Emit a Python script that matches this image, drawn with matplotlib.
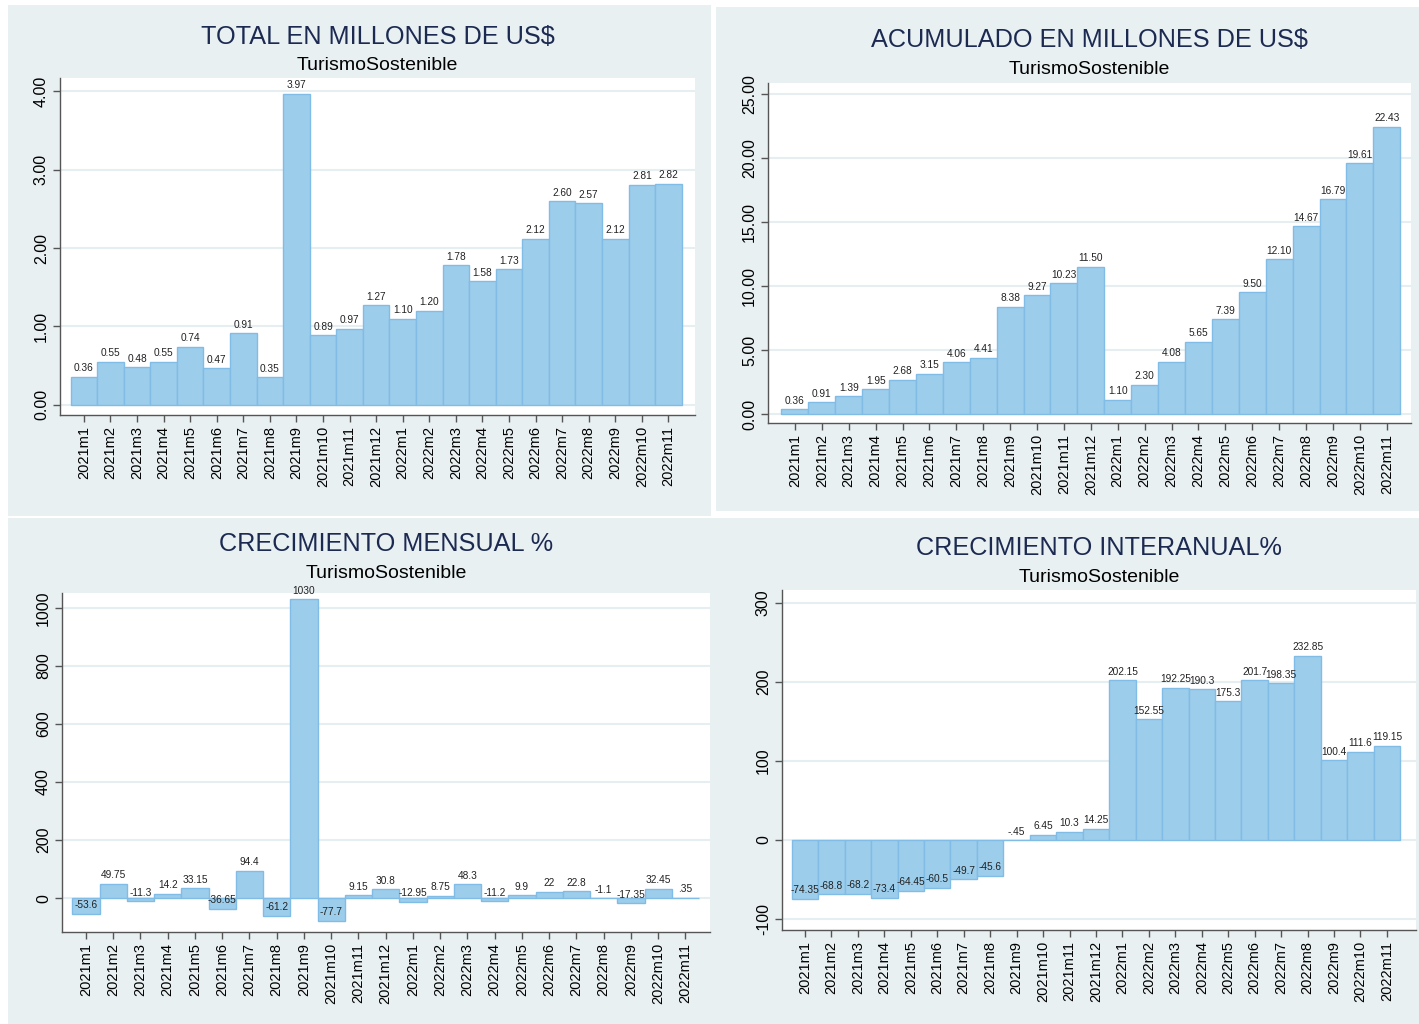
import matplotlib
matplotlib.use("Agg")
import matplotlib.pyplot as plt
import numpy as np
from matplotlib.patches import Rectangle

plt.rcParams['font.family'] = ['Liberation Sans', 'DejaVu Sans']

months = ["2021m1", "2021m2", "2021m3", "2021m4", "2021m5", "2021m6", "2021m7",
          "2021m8", "2021m9", "2021m10", "2021m11", "2021m12", "2022m1", "2022m2",
          "2022m3", "2022m4", "2022m5", "2022m6", "2022m7", "2022m8", "2022m9",
          "2022m10", "2022m11"]

total = [0.36, 0.55, 0.48, 0.55, 0.74, 0.47, 0.91, 0.35, 3.97, 0.89, 0.97, 1.27,
         1.10, 1.20, 1.78, 1.58, 1.73, 2.12, 2.60, 2.57, 2.12, 2.81, 2.82]

acumulado = [0.36, 0.91, 1.39, 1.95, 2.68, 3.15, 4.06, 4.41, 8.38, 9.27, 10.23, 11.50,
             1.10, 2.30, 4.08, 5.65, 7.39, 9.50, 12.10, 14.67, 16.79, 19.61, 22.43]

mensual = [-53.6, 49.75, -11.3, 14.2, 33.15, -36.65, 94.4, -61.2, 1030, -77.7, 9.15,
           30.8, -12.95, 8.75, 48.3, -11.2, 9.9, 22, 22.8, -1.1, -17.35, 32.45, 0.35]

interanual = [-74.35, -68.8, -68.2, -73.4, -64.45, -60.5, -49.7, -45.6, -0.45, 6.45,
              10.3, 14.25, 202.15, 152.55, 192.25, 190.3, 175.3, 201.7, 198.35,
              232.85, 100.4, 111.6, 119.15]

W, H = 1419, 1024
BG = "#e8f0f2"
GRID = "#e6eef1"
BAR = "#9ccdeb"
EDGE = "#80bce6"
TITLE_C = "#1c2a52"

fig = plt.figure(figsize=(W / 100, H / 100), dpi=100, facecolor="white")

# panel backgrounds
def px_rect(x0, y0, x1, y1):
    fig.patches.append(Rectangle((x0 / W, 1 - y1 / H), (x1 - x0) / W, (y1 - y0) / H,
                                 transform=fig.transFigure, facecolor=BG,
                                 edgecolor="none", zorder=-10))

px_rect(8, 5, 711, 516)
px_rect(716, 7, 1419, 511)
px_rect(8, 518, 1419, 1024)


def fmt_stata(v):
    s = f"{v:g}"
    if s.startswith("0."):
        s = s[1:]
    elif s.startswith("-0."):
        s = "-" + s[2:]
    return s


def panel(rect_px, values, title, title_y, sub_y, ylim, yticks, ytickfmt, xlim, labels):
    x0, y0, x1, y1 = rect_px
    ax = fig.add_axes([x0 / W, 1 - y1 / H, (x1 - x0) / W, (y1 - y0) / H])
    ax.set_facecolor("white")
    xs = np.arange(len(values))
    ax.bar(xs, values, width=1.0, color=BAR, edgecolor=EDGE, linewidth=1.0, zorder=3)
    for x, v, lab in zip(xs, values, labels):
        ax.annotate(lab, (x, v), xytext=(0, 2.5), textcoords="offset points",
                    ha="center", va="bottom", fontsize=7.3, color="#222222", zorder=4)
    ax.set_xlim(*xlim)
    ax.set_ylim(*ylim)
    ax.set_yticks(yticks)
    ax.set_yticklabels([ytickfmt(t) for t in yticks], rotation=90, va="center",
                       fontsize=11.5)
    ax.set_xticks(xs)
    ax.set_xticklabels(months, rotation=90, fontsize=10.5)
    ax.yaxis.grid(True, color=GRID, linewidth=1.5, zorder=0)
    ax.set_axisbelow(True)
    for s in ["top", "right"]:
        ax.spines[s].set_visible(False)
    for s in ["left", "bottom"]:
        ax.spines[s].set_color("#555555")
        ax.spines[s].set_linewidth(1.0)
    ax.tick_params(axis="both", direction="out", length=5, width=1.0, color="#555555",
                   labelcolor="black", pad=3)
    cx = (x0 + x1) / 2 / W
    fig.text(cx, 1 - title_y / H, title, ha="center", va="center", fontsize=18.2,
             color=TITLE_C)
    fig.text(cx, 1 - sub_y / H, "TurismoSostenible", ha="center", va="center",
             fontsize=14, color="black")
    return ax


panel((60, 78, 695, 415), total, "TOTAL EN MILLONES DE US$", 37, 66,
      (-0.13, 4.17), [0, 1, 2, 3, 4], lambda t: f"{t:.2f}", (-0.9, 23.0),
      [f"{v:.2f}" for v in total])

panel((768, 83, 1411, 423), acumulado, "ACUMULADO EN MILLONES DE US$", 40, 69,
      (-0.7, 25.86), [0, 5, 10, 15, 20, 25], lambda t: f"{t:.2f}", (-1.0, 22.9),
      [f"{v:.2f}" for v in acumulado])

panel((62, 593, 710, 932), mensual, "CRECIMIENTO MENSUAL %", 544, 573,
      (-117, 1052), [0, 200, 400, 600, 800, 1000], lambda t: f"{t:d}", (-0.88, 22.9),
      [fmt_stata(v) for v in mensual])

panel((782, 590, 1416, 930), interanual, "CRECIMIENTO INTERANUAL%", 548, 577,
      (-114, 316), [-100, 0, 100, 200, 300], lambda t: f"{t:d}", (-0.87, 23.1),
      [fmt_stata(v) for v in interanual])

fig.savefig("out.png", dpi=100, facecolor="white")
